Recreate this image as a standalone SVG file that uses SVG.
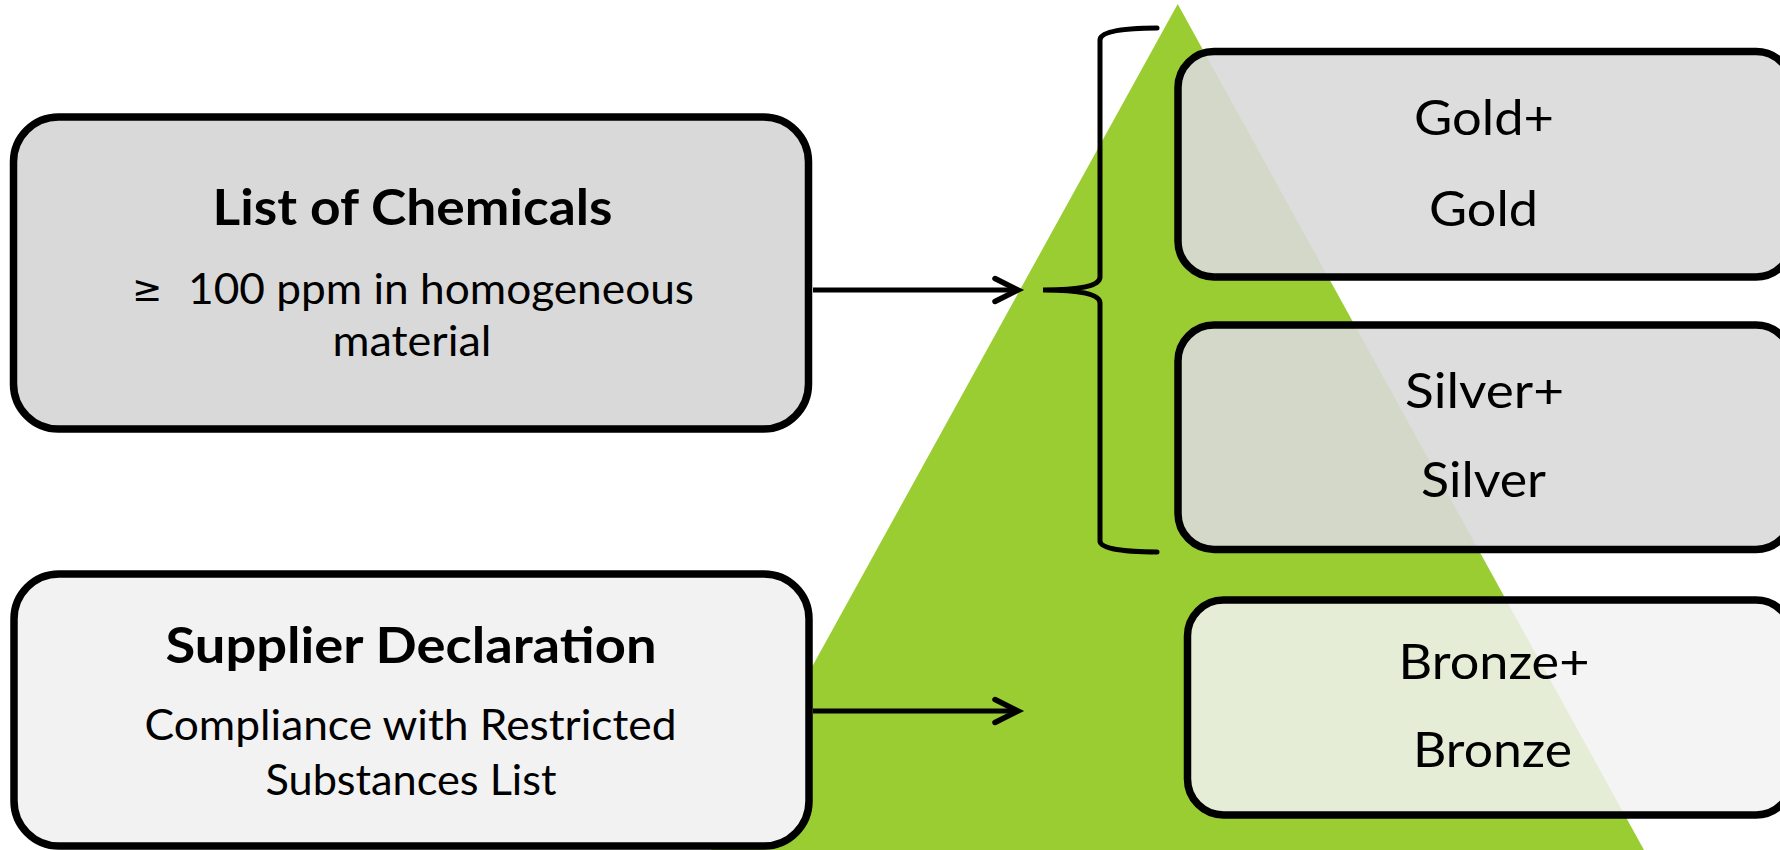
<svg xmlns="http://www.w3.org/2000/svg" width="1780" height="850" viewBox="0 0 1780 850">
  <style>
    .box { stroke: #000; stroke-width: 7.5; }
    .dark { fill: #D9D9D9; }
    .light { fill: #F2F2F2; }
    .tier1 { fill: #D9D9D9; fill-opacity: 0.9; }
    .tier2 { fill: #F2F2F2; fill-opacity: 0.86; }
    .t { font-family: Lato, "Liberation Sans", sans-serif; fill: #000; text-anchor: middle; }
    .title { font-weight: bold; font-size: 50px; }
    .body { font-size: 42px; }
    .tier { font-size: 49px; }
    .conn { stroke: #000; stroke-width: 5; fill: none; }
  </style>
  <defs>
    <marker id="arr" markerUnits="userSpaceOnUse" markerWidth="40" markerHeight="40" refX="30" refY="20" orient="auto" viewBox="0 0 40 40" overflow="visible">
      <path d="M7,8.5 L30,20 L7,31.5" fill="none" stroke="#000" stroke-width="5.5" stroke-linecap="round" stroke-linejoin="miter"/>
    </marker>
  </defs>
  <rect width="1780" height="850" fill="#FFFFFF"/>

  <g id="pyramid">
    <polygon points="1177.7,4 1644,850 711,850" fill="#9ACD32"/>
  </g>

  <g id="list-of-chemicals">
    <rect class="box dark" x="13.5" y="117" width="795" height="312" rx="45"/>
    <text class="t title" x="412.5" y="225" textLength="400" lengthAdjust="spacingAndGlyphs">List of Chemicals</text>
    <text class="t body" style="text-anchor:start"><tspan x="132" y="301" font-family="DejaVu Sans, sans-serif" font-size="36">≥</tspan><tspan x="188" y="304" textLength="506" lengthAdjust="spacingAndGlyphs">100 ppm in homogeneous</tspan></text>
    <text class="t body" x="412" y="356" textLength="159" lengthAdjust="spacingAndGlyphs">material</text>
  </g>

  <g id="supplier-declaration">
    <rect class="box light" x="14" y="574" width="795" height="272" rx="45"/>
    <text class="t title" x="411" y="663" textLength="491" lengthAdjust="spacingAndGlyphs">Supplier Declaration</text>
    <text class="t body" x="410.5" y="740" textLength="532" lengthAdjust="spacingAndGlyphs">Compliance with Restricted</text>
    <text class="t body" x="411" y="795" textLength="291" lengthAdjust="spacingAndGlyphs">Substances List</text>
  </g>

  <g id="connectors">
    <line class="conn" x1="813" y1="290" x2="1018" y2="290" marker-end="url(#arr)"/>
    <line class="conn" x1="813" y1="711" x2="1018" y2="711" marker-end="url(#arr)"/>
    <path id="brace" class="conn" stroke-width="6" stroke-linecap="round" d="M1157,28 C1125,28 1100,31 1100,40 L1100,277 C1100,286 1080,290 1043,290 C1080,290 1100,294 1100,303 L1100,541 C1100,549 1125,552 1157,552"/>
  </g>

  <g id="gold">
    <rect class="box tier1" x="1178" y="51.5" width="614" height="225.5" rx="36"/>
    <text class="t tier" x="1484" y="135" textLength="140" lengthAdjust="spacingAndGlyphs">Gold+</text>
    <text class="t tier" x="1483.5" y="226" textLength="109" lengthAdjust="spacingAndGlyphs">Gold</text>
  </g>

  <g id="silver">
    <rect class="box tier1" x="1178" y="325" width="614" height="224.5" rx="36"/>
    <text class="t tier" x="1484.5" y="408" textLength="159" lengthAdjust="spacingAndGlyphs">Silver+</text>
    <text class="t tier" x="1483.5" y="497" textLength="125" lengthAdjust="spacingAndGlyphs">Silver</text>
  </g>

  <g id="bronze">
    <rect class="box tier2" x="1187.5" y="600" width="604.5" height="215" rx="36"/>
    <text class="t tier" x="1494" y="679" textLength="191" lengthAdjust="spacingAndGlyphs">Bronze+</text>
    <text class="t tier" x="1492.5" y="767" textLength="159" lengthAdjust="spacingAndGlyphs">Bronze</text>
  </g>
</svg>
